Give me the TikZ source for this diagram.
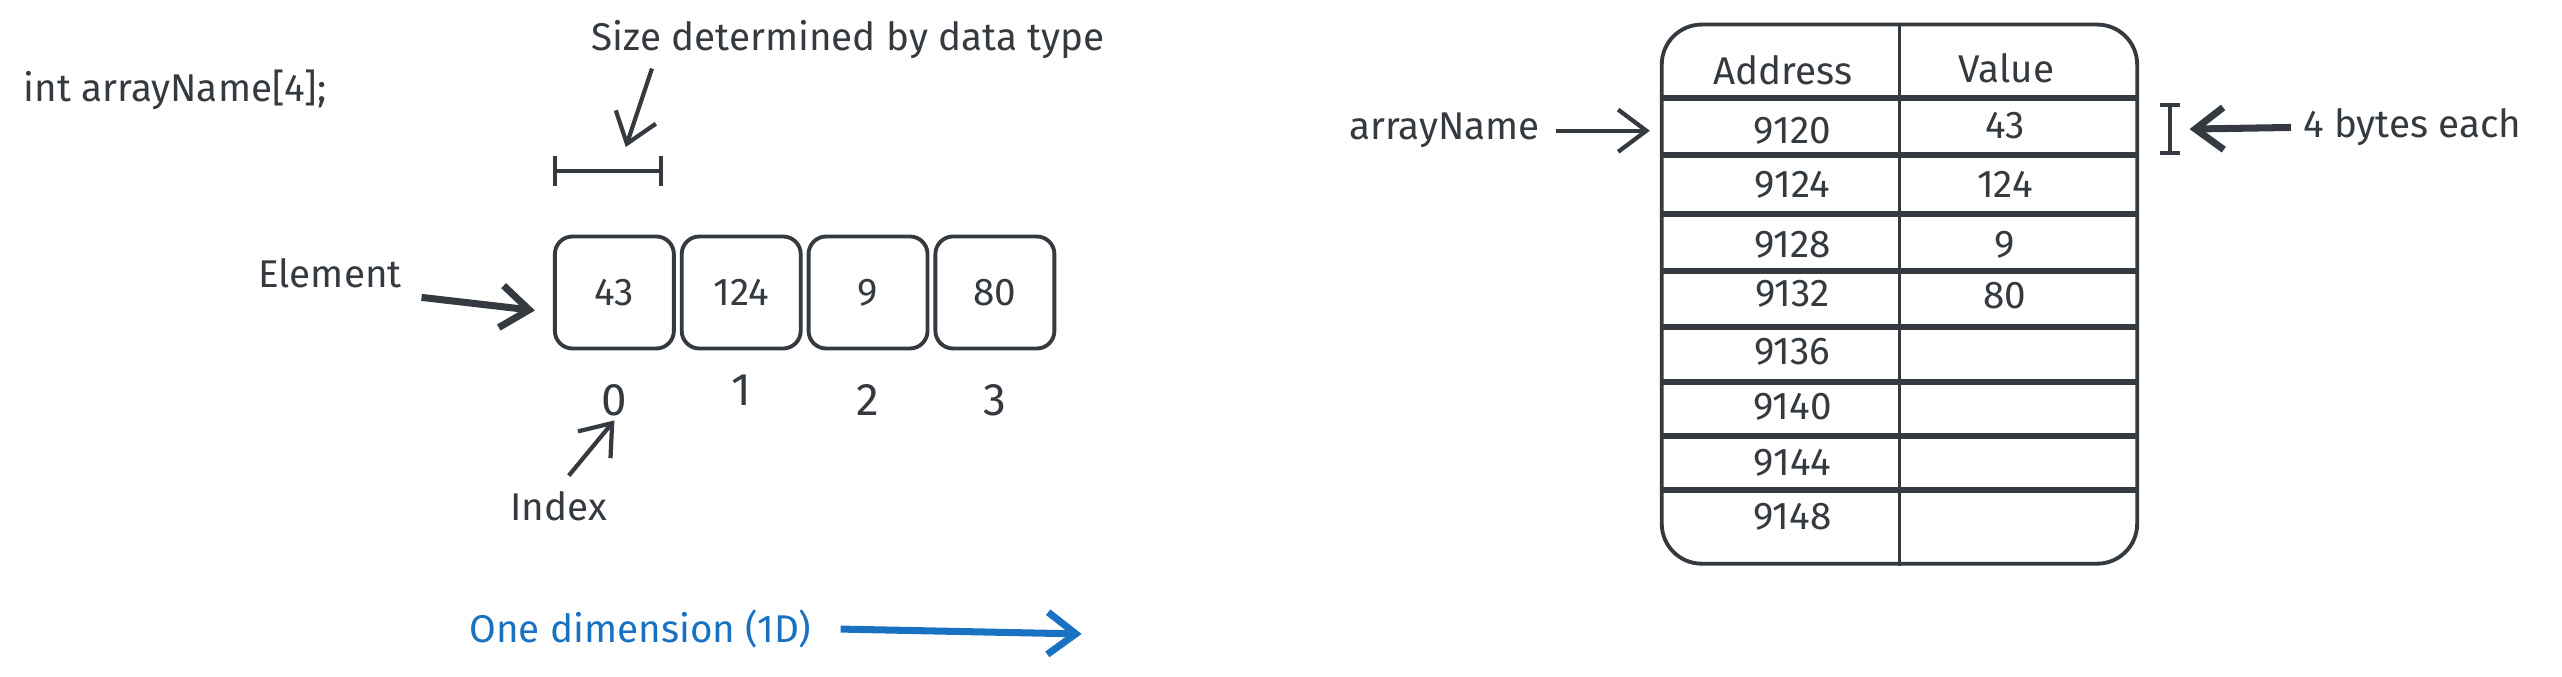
\documentclass[tikz,border=0pt]{standalone}
\usepackage{fontspec}
\setmainfont{Fira Sans}
\usepackage{tikz}
\usetikzlibrary{positioning, arrows.meta}
\definecolor{ink}{HTML}{343A40}
\definecolor{inkblue}{HTML}{1971C2}
\tikzset{
  lbl/.style={font=\fontsize{11}{13}\selectfont, text=ink, inner sep=1pt},
  cell/.style={draw=ink, line width=1.1pt, rounded corners=5pt, minimum width=1.19cm,
    minimum height=1.12cm, font=\fontsize{11}{13}\selectfont, text=ink},
  arr/.style={draw=ink, line width=1.2pt, -{Straight Barb[length=8pt,width=12pt]}},
  boldarr/.style={arr, line width=2pt},
  rowline/.style={draw=ink, line width=1.7pt},
  barline/.style={draw=ink, line width=1.1pt, {Bar[width=0.3cm]}-{Bar[width=0.3cm]}}
}

\begin{document}
\begin{tikzpicture}[x=0.01634cm, y=-0.01634cm]
\useasboundingbox (0,0) rectangle (1568,414);

% declaration
\node[lbl, anchor=west] (decl) at (12,55) {int arrayName[4];};

% array cells
\node[cell] (b0) at (376,179) {43};
\foreach \v [count=\i, remember=\i as \j (initially 0)] in {124,9,80}
\node[cell, right=0.04cm of b\j] (b\i) {\v};

% indices
\foreach \i/\d in {0/0.3cm,1/0.2cm,2/0.3cm,3/0.3cm}
\node[lbl, font=\fontsize{13}{15}\selectfont, below=\d of b\i] (i\i) {\i};

% size bracket
\coordinate (brl) at ([yshift=0.64cm]b0.north west);
\coordinate (brr) at ([xshift=-0.13cm,yshift=0.64cm]b0.north east);
\draw[barline] (brl) -- (brr);
\node[lbl] (size) at (519,24) {Size determined by data type};
\coordinate (sizetail) at (399,42);
\coordinate (sizetip) at (383,90);
\draw[arr] (sizetail) -- (sizetip);

% element
\node[lbl] (elem) at (202,167) {Element};
\coordinate (elemtail) at (258,182);
\draw[boldarr] (elemtail) -- ([xshift=-0.18cm,yshift=-0.18cm]b0.west);

% index
\node[lbl] (idx) at (342,310) {Index};
\draw[arr] ([xshift=0.1cm,yshift=0.12cm]idx.north) -- (i0.south);

% one dimension
\node[lbl, text=inkblue] (dim) at (392,385) {One dimension (1D)};
\coordinate (dimtip) at (662,388);
\draw[boldarr, draw=inkblue] ([xshift=0.25cm]dim.east) -- (dimtip);

% memory table
\node[draw=ink, line width=1.1pt, rounded corners=0.4cm, minimum width=4.755cm,
  minimum height=5.392cm] (mem) at (1162.5,180) {};
\draw[ink, line width=1.1pt] (mem.north) -- (mem.south);
\foreach \y in {60,95,131,166,200,234,267,300}
\draw[rowline] (mem.west |- 0,\y) -- (mem.east |- 0,\y);

\node[lbl] (haddr) at (1091,43) {Address};
\node[lbl] (hval) at (1228,42) {Value};
\foreach \a/\y in {9120/80,9124/113,9128/150,9132/180,9136/215,9140/249,9144/283,9148/316}
\node[lbl] (a\a) at (1097,\y) {\a};
\foreach \v/\y [count=\k] in {43/77,124/113,9/150,80/181}
\node[lbl] (v\k) at (1227,\y) {\v};

% pointer and size
\node[lbl] (aname) at (884,80) {arrayName};
\draw[arr, shorten >=0.1cm] ([xshift=0.12cm]aname.east) -- (mem.west |- a9120);

\coordinate (ibt) at (1328,63);
\coordinate (ibb) at (1328,95);
\draw[barline, {Bar[width=0.2cm]}-{Bar[width=0.2cm]}] (ibt) -- (ibb);
\node[lbl, anchor=west] (bytes) at (1407,78) {4 bytes each};
\coordinate (ibmid) at (1340,79);
\draw[boldarr] ([xshift=-0.08cm]bytes.west) -- (ibmid);
\end{tikzpicture}
\end{document}
